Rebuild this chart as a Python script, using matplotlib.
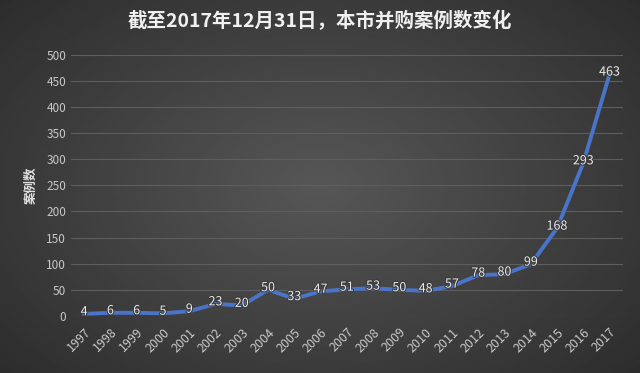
import numpy as np
import matplotlib.pyplot as plt
import matplotlib.patheffects as pe

plt.rcParams['font.family'] = ['Noto Sans CJK SC', 'DejaVu Sans']

years = [str(y) for y in range(1997, 2018)]
cases = [4, 6, 6, 5, 9, 23, 20, 50, 33, 47, 51, 53, 50, 48, 57, 78, 80, 99, 168, 293, 463]
yticks = [0, 50, 100, 150, 200, 250, 300, 350, 400, 450, 500]

fig = plt.figure(figsize=(6.4, 3.73), dpi=100)

# dark radial background
bg = fig.add_axes([0, 0, 1, 1])
gx, gy = np.meshgrid(np.linspace(-1, 1, 320), np.linspace(-1, 1, 190))
r = np.sqrt(gx**2 + (gy * 0.9)**2)
bg.imshow(0.34 - 0.17 * np.clip(r, 0, 1.4) / 1.4, cmap='gray', vmin=0, vmax=1,
          aspect='auto', extent=[0, 1, 0, 1])
bg.axis('off')

ax = fig.add_axes([0.111, 0.153, 0.862, 0.70])
ax.patch.set_alpha(0)
x = np.arange(len(years))
ax.plot(x, cases, color='#4a74c9', lw=2.8, solid_joinstyle='round', zorder=3)

for xi, v in zip(x, cases):
    ax.text(xi, v + 4, str(v), ha='center', va='center', fontsize=9,
            color='#e8e8e8', zorder=4,
            path_effects=[pe.withStroke(linewidth=1.5, foreground='#3a3a3a')])

ax.set_xlim(-0.5, len(years) - 0.5)
ax.set_ylim(0, 500)
ax.set_yticks(yticks)
ax.set_xticks(x)
ax.set_xticklabels(years, rotation=45, ha='right', rotation_mode='anchor')
ax.tick_params(colors='#c8c8c8', labelsize=8.5, length=0)
ax.tick_params(axis='x', labelsize=9, pad=7)
ax.grid(axis='y', color='#5e5e5e', lw=0.8)
for s in ax.spines.values():
    s.set_visible(False)
ax.set_ylabel('案例数', color='#e0e0e0', fontsize=9, fontweight='bold', labelpad=6)

fig.text(0.5, 0.945, '截至2017年12月31日，本市并购案例数变化', ha='center', va='center',
         fontsize=14, fontweight='bold', color='#f0f0f0')

fig.savefig('out.png', dpi=100)
